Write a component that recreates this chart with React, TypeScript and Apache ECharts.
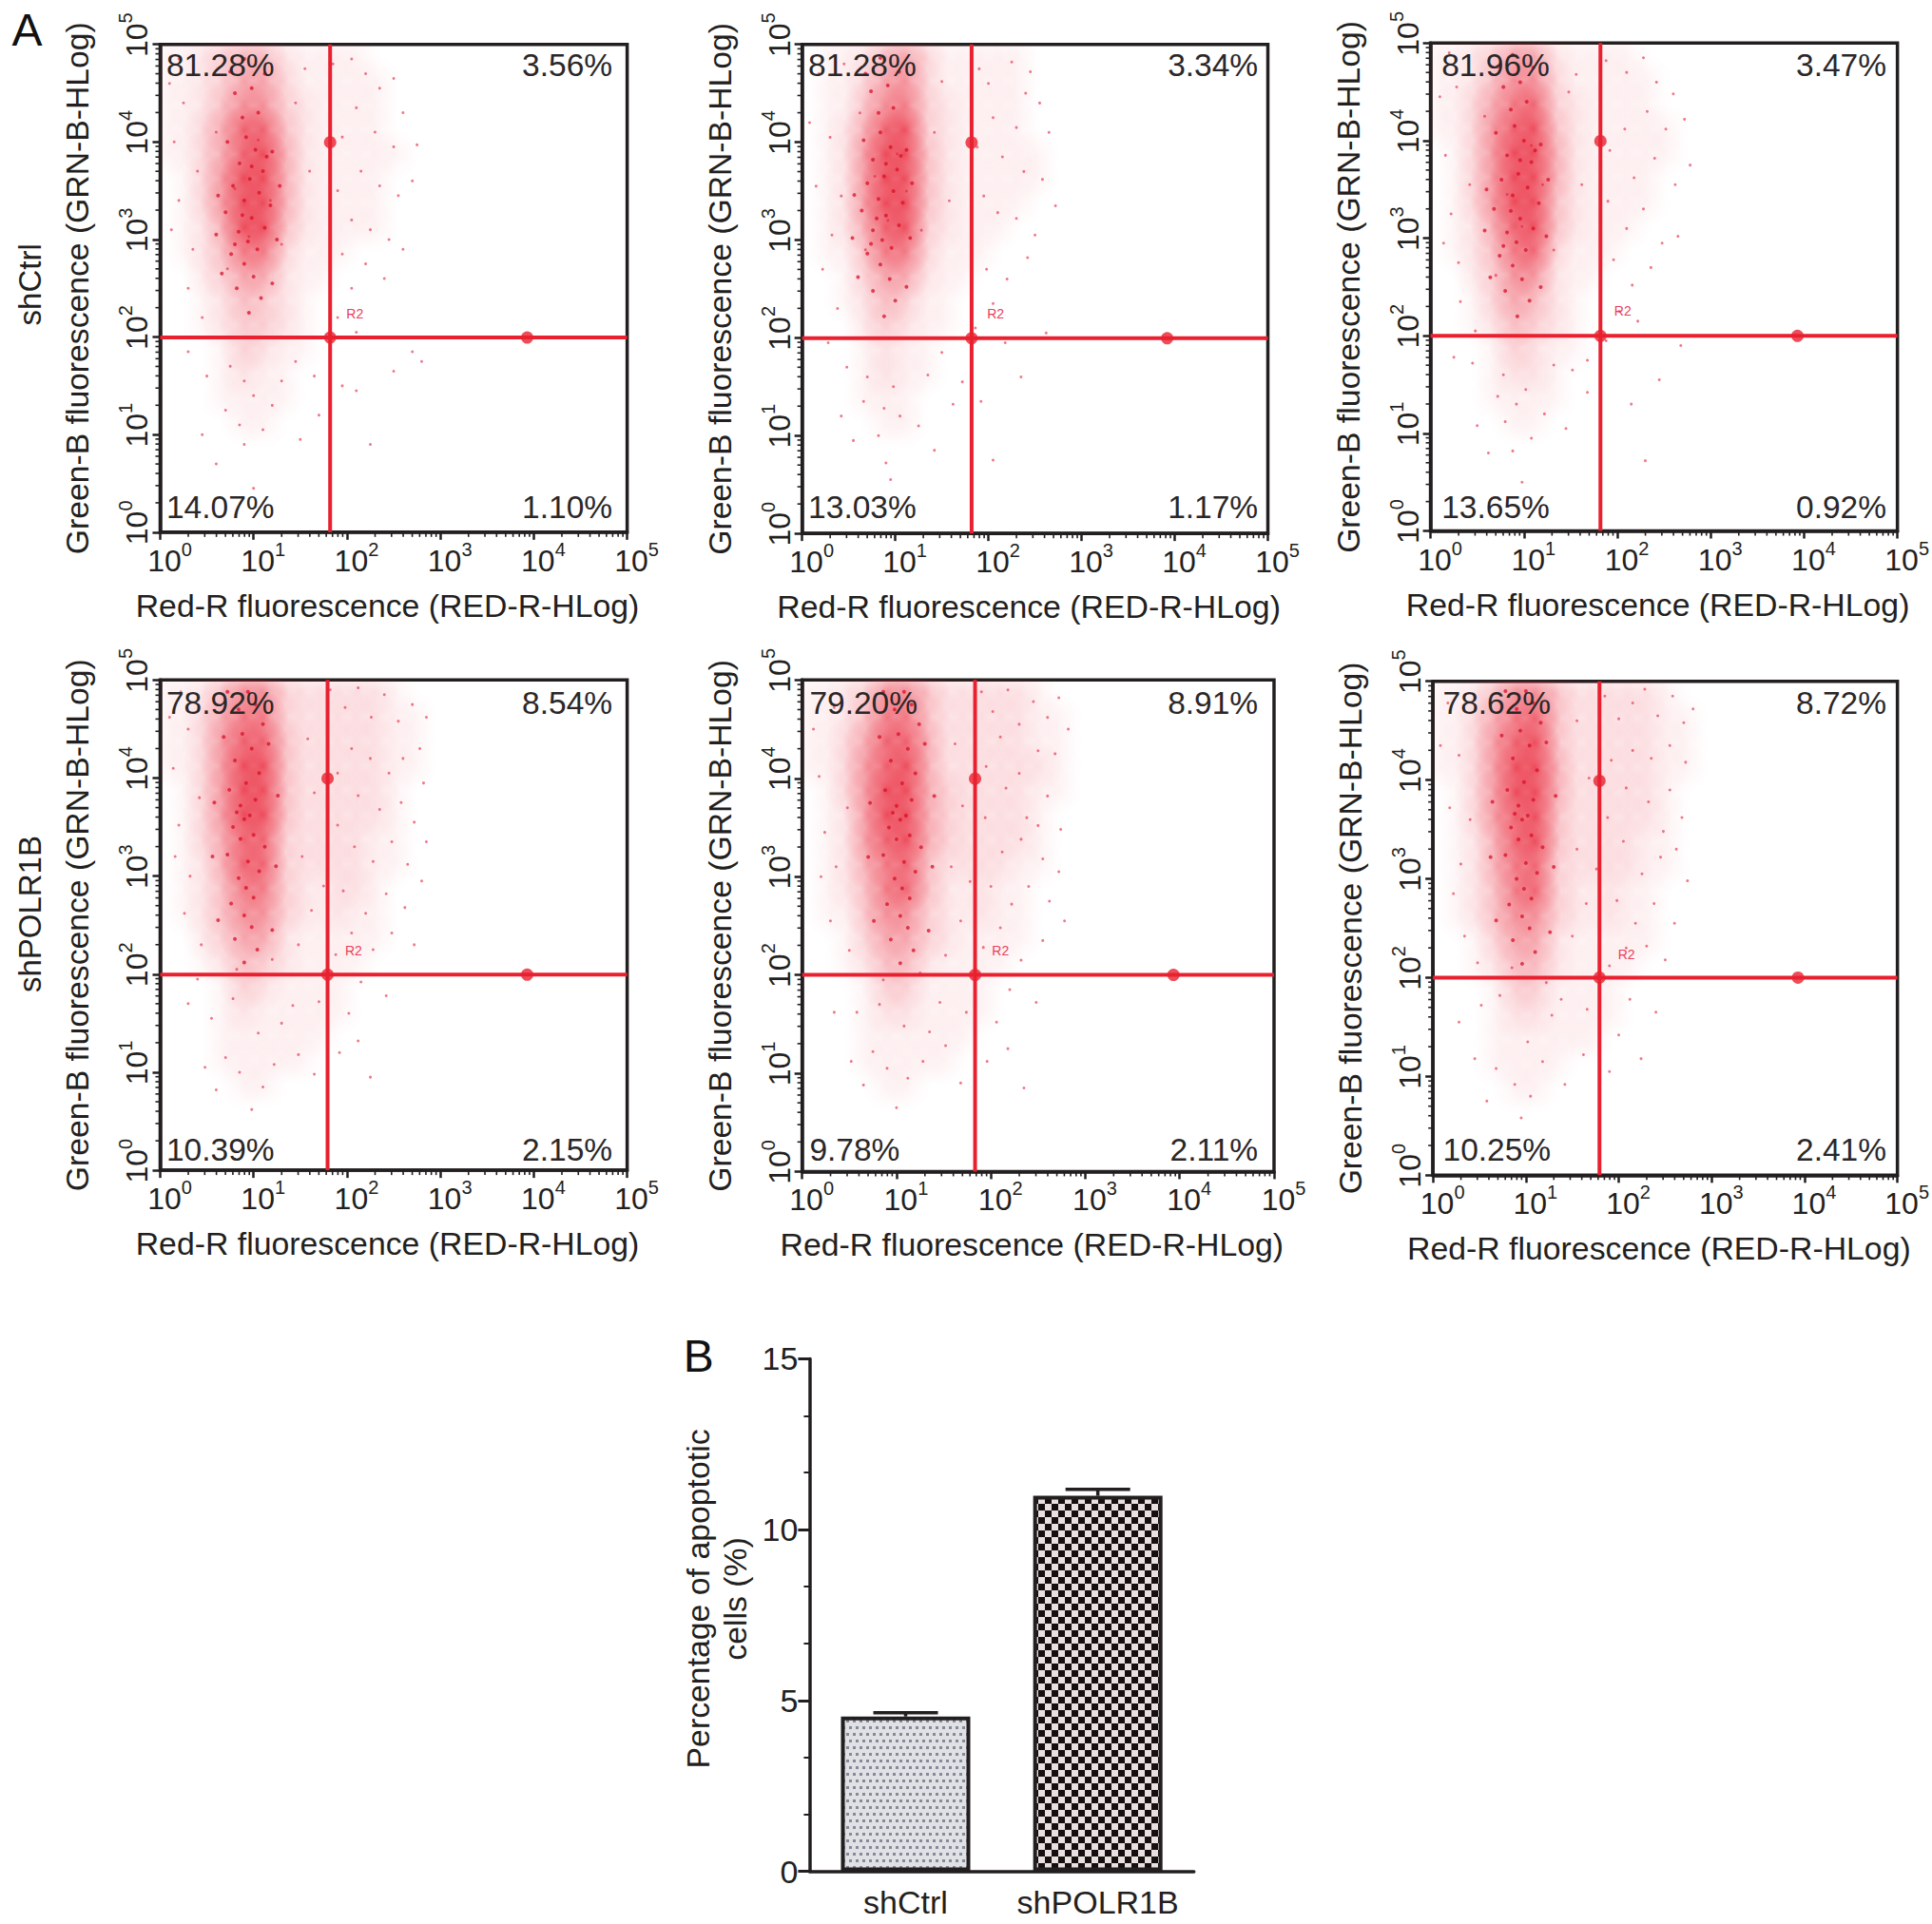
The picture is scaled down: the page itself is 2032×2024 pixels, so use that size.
import React, { useEffect, useRef } from "react";
import * as echarts from "echarts";

const FONT = "Liberation Sans";
const INK = "#231f20";
const RED = "#e8202f";

const decades = [1, 10, 100, 1000, 10000, 100000];
const minorFactors = [2, 3, 4, 5, 6, 7, 8, 9];
const xAxisTitle = "Red-R fluorescence (RED-R-HLog)";
const yAxisTitle = "Green-B fluorescence (GRN-B-HLog)";
const rowTitles = ["shCtrl", "shPOLR1B"];

// Percentages in reading order: top-left, top-right, bottom-left, bottom-right
const pct1 = ["81.28%", "3.56%", "14.07%", "1.10%"];
const pct2 = ["81.28%", "3.34%", "13.03%", "1.17%"];
const pct3 = ["81.96%", "3.47%", "13.65%", "0.92%"];
const pct4 = ["78.92%", "8.54%", "10.39%", "2.15%"];
const pct5 = ["79.20%", "8.91%", "9.78%", "2.11%"];
const pct6 = ["78.62%", "8.72%", "10.25%", "2.41%"];

// Gate position: [vertical x, horizontal y, handle x, handle y]
const gate1 = [66, 99, 8500, 9900];
const gate2 = [66, 99, 8300, 9900];
const gate3 = [66, 100, 8500, 9900];
const gate4 = [62, 99, 8500, 9900];
const gate5 = [68, 100, 8600, 9900];
const gate6 = [62, 100, 8500, 9800];

// Estimated event density. Rows: log10(y) from 5 down in 0.25 steps.
// Columns: log10(x) from 0 in 0.2 steps. 0 = empty, 9 = saturated.
const density1 = ["112344211110000","112355311111000","112466321111000","113588421111000","113589521111100","013699521111000","013699521111000","012599421111000","012477311100000","002355211000000","001243210000000","001233210000000","000132110000000","000121100000000","000111100000000","000011000000000"];
const density2 = ["011245311111000","011356311111000","011467321111000","012589321111000","012699421111100","012699421111100","012699421111000","012589321110000","011477311100000","001355211000000","001243110000000","000232110000000","000121100000000","000121100000000","000111000000000","000011000000000"];
const density3 = ["112355211110000","112466311111000","113578321111000","113689421111100","013699521111100","013699521111000","013699421111000","012589421110000","012478311100000","002366211000000","001354210000000","001243210000000","000132110000000","000122100000000","000111100000000","000011000000000"];
const density4 = ["112466322222100","113577322222110","113688422222110","113699422222110","013699422222100","013699422222100","013588322221100","012588322221100","012477321221000","012466321211000","002355211111000","001243211110000","000132111100000","000121111100000","000111111000000","000111110000000","000011000000000"];
const density5 = ["112366422222100","112477422222110","113588522222110","113689522222210","013699532222110","012699532222100","012689532222100","012578422221100","012478421211000","011466321211000","001355321111000","001244211110000","000133111100000","000122111100000","000111111000000","000111110000000","000011000000000"];
const density6 = ["112466422222100","113578422222110","113689422222110","113699522222110","013699522222100","013689422222100","012589422221100","012578322221100","012478321211000","012466321211000","001355211111000","001244211110000","000133111100000","000122111100000","000111111000000","000111100000000","000011000000000"];

// Individually legible events, as [log10 x, log10 y]
const dots1 = [[1.85,4.8],[2.05,4.85],[2.2,4.7],[2.35,4.55],[2.5,4.65],[2.6,4.3],[2.75,3.97],[2.5,3.95],[2.3,4.1],[2.1,4.35],[1.95,4.05],[2.15,3.7],[2.35,3.55],[2.55,3.45],[2.7,3.6],[1.9,3.5],[2.05,3.2],[2.25,3.1],[2.45,3.0],[2.6,2.9],[2.4,2.6],[2.2,2.75],[1.95,2.85],[2.05,2.5],[1.9,2.2],[2.1,2.05],[2.7,1.85],[2.8,1.75],[2.5,1.65],[2.1,1.45],[2.25,0.9],[1.95,1.5],[1.0,0.45],[0.9,0.9],[0.85,1.1],[1.1,1.05],[0.7,1.25],[1.2,1.3],[0.45,1.0],[1.5,0.95],[1.7,1.2],[0.6,0.7],[1.0,1.4],[1.3,1.55],[0.5,1.6],[0.3,1.85],[0.75,1.7],[1.45,1.75],[1.65,1.6],[0.9,1.55],[0.1,4.6],[0.15,4.0],[0.2,3.4],[0.25,4.4],[0.35,2.9],[0.4,3.7],[0.12,3.1],[0.3,2.5],[0.45,2.2],[0.2,4.85],[0.8,3.52],[0.95,3.03],[1.05,4.02],[1.18,3.4],[0.72,2.7],[1.3,2.95],[0.6,4.1],[1.45,4.4],[1.6,3.7],[1.55,4.75]];
const dots2 = [[1.9,4.75],[2.0,4.6],[2.25,4.82],[2.4,4.5],[2.55,4.4],[2.45,4.72],[2.65,4.1],[2.3,4.15],[2.05,4.25],[1.88,3.95],[2.15,3.85],[2.38,3.7],[2.58,3.62],[2.72,3.35],[1.95,3.45],[2.1,3.28],[2.3,3.22],[2.5,3.05],[2.42,2.82],[2.2,2.6],[1.98,2.7],[2.05,2.35],[1.86,2.1],[2.18,1.95],[2.62,2.05],[2.35,1.6],[1.92,1.35],[2.05,0.75],[0.95,0.55],[0.82,1.0],[0.9,0.72],[1.05,1.2],[0.66,1.35],[1.25,1.1],[0.42,1.2],[1.42,0.85],[1.62,1.32],[0.55,0.95],[0.98,1.5],[1.35,1.62],[0.48,1.7],[0.28,1.95],[0.7,1.6],[1.5,1.85],[1.72,1.55],[0.88,1.28],[0.08,4.2],[0.18,4.7],[0.15,3.55],[0.3,4.05],[0.32,3.05],[0.42,3.45],[0.22,2.7],[0.38,2.3],[0.45,4.8],[0.78,3.65],[0.92,3.2],[1.02,3.88],[1.12,3.5],[0.68,2.9],[1.28,3.1],[0.62,4.3],[1.42,4.1],[1.58,3.4],[1.5,4.62]];
const dots3 = [[1.88,4.82],[2.1,4.7],[2.28,4.85],[2.42,4.6],[2.6,4.48],[2.72,4.22],[2.52,4.12],[2.32,4.3],[2.08,4.12],[1.92,3.9],[2.18,3.62],[2.4,3.82],[2.62,3.55],[2.78,3.75],[1.9,3.38],[2.1,3.1],[2.28,3.3],[2.48,2.95],[2.65,3.02],[2.36,2.7],[2.16,2.52],[1.96,2.78],[2.02,2.25],[1.88,1.95],[2.22,2.15],[2.68,1.9],[2.45,1.55],[2.15,1.3],[2.3,0.72],[0.98,0.5],[0.88,0.82],[0.8,1.12],[1.08,0.95],[0.72,1.38],[1.22,1.2],[0.5,1.08],[1.45,1.05],[1.68,1.42],[0.62,0.8],[1.02,1.45],[1.32,1.7],[0.45,1.72],[0.25,1.78],[0.78,1.6],[1.52,1.65],[1.68,1.75],[0.92,1.3],[0.1,4.45],[0.16,3.85],[0.22,3.25],[0.28,4.55],[0.3,2.75],[0.42,3.55],[0.14,2.95],[0.32,2.35],[0.48,2.05],[0.2,4.9],[0.82,3.45],[0.98,3.12],[1.08,3.95],[1.2,3.55],[0.7,2.62],[1.32,2.88],[0.58,4.25],[1.48,4.5],[1.62,3.55],[1.56,4.68]];
const dots4 = [[1.82,4.9],[1.98,4.72],[2.12,4.92],[2.26,4.62],[2.4,4.85],[2.55,4.58],[2.7,4.75],[2.85,4.62],[2.78,4.3],[2.6,4.2],[2.82,3.95],[2.45,4.05],[2.25,4.2],[2.05,4.3],[1.9,4.05],[2.12,3.82],[2.35,3.68],[2.58,3.75],[2.72,3.55],[2.85,3.35],[1.9,3.52],[2.08,3.3],[2.28,3.15],[2.48,3.35],[2.65,3.12],[2.8,2.95],[2.42,2.82],[2.62,2.68],[2.2,2.62],[1.96,2.85],[2.05,2.42],[1.88,2.2],[2.28,2.25],[2.48,2.42],[2.72,2.3],[2.15,1.92],[2.42,1.78],[2.02,1.6],[2.12,1.32],[2.25,0.95],[1.92,1.2],[0.98,0.62],[1.1,0.85],[0.85,1.0],[0.7,1.15],[1.22,1.08],[0.48,1.05],[1.48,1.18],[1.65,0.98],[0.6,0.82],[1.05,1.4],[1.3,1.5],[0.55,1.55],[0.3,1.7],[0.78,1.75],[1.42,1.68],[1.7,1.72],[0.4,1.95],[0.1,4.62],[0.14,4.1],[0.2,3.52],[0.3,4.5],[0.32,3.0],[0.42,3.8],[0.16,3.2],[0.26,2.62],[0.44,2.3],[0.22,4.88],[1.58,4.4],[1.65,3.85],[1.52,3.2],[1.62,2.65],[1.48,2.3],[1.75,2.9],[0.82,2.05],[1.2,2.15]];
const dots5 = [[1.9,4.88],[2.02,4.68],[2.18,4.9],[2.3,4.55],[2.45,4.78],[2.6,4.62],[2.72,4.82],[2.82,4.5],[2.68,4.25],[2.5,4.28],[2.3,4.05],[2.1,4.42],[1.95,4.12],[2.16,3.9],[2.38,3.6],[2.6,3.82],[2.74,3.48],[2.5,3.52],[1.94,3.6],[2.12,3.25],[2.32,3.38],[2.55,3.18],[2.72,3.05],[2.4,2.9],[2.62,2.75],[2.22,2.72],[2.0,2.9],[2.1,2.48],[1.92,2.28],[2.32,2.15],[2.55,2.35],[2.78,2.55],[2.2,1.85],[2.48,1.72],[2.06,1.52],[2.18,1.25],[2.35,0.85],[1.96,1.12],[1.0,0.65],[1.12,0.95],[0.9,1.05],[0.75,1.22],[1.28,1.12],[0.52,1.12],[1.52,1.28],[1.68,0.9],[0.65,0.88],[1.08,1.48],[1.35,1.42],[0.58,1.62],[0.34,1.62],[0.82,1.7],[1.46,1.72],[1.74,1.62],[0.12,4.5],[0.18,4.02],[0.24,3.45],[0.34,4.72],[0.36,3.1],[0.48,3.7],[0.2,3.0],[0.3,2.55],[0.5,2.25],[1.62,4.35],[1.7,3.72],[1.58,3.1],[1.68,2.55],[1.52,2.2],[1.78,2.95],[0.86,1.95],[1.25,2.02]];
const dots6 = [[1.85,4.85],[2.0,4.62],[2.15,4.78],[2.28,4.92],[2.42,4.65],[2.58,4.85],[2.7,4.58],[2.8,4.72],[2.72,4.18],[2.55,4.35],[2.35,4.22],[2.15,4.3],[1.92,4.2],[2.08,3.92],[2.32,3.78],[2.55,3.9],[2.68,3.62],[2.48,3.48],[1.88,3.62],[2.05,3.38],[2.25,3.05],[2.45,3.22],[2.62,3.3],[2.74,2.98],[2.38,2.75],[2.6,2.55],[2.18,2.55],[1.98,2.78],[2.08,2.3],[1.9,2.12],[2.3,2.32],[2.5,2.18],[2.12,1.78],[2.4,1.65],[2.0,1.42],[2.24,1.18],[1.9,1.05],[0.95,0.58],[1.05,0.8],[0.88,0.92],[0.68,1.08],[1.18,1.15],[0.45,1.18],[1.42,0.92],[1.62,1.22],[0.58,0.75],[1.02,1.35],[1.28,1.62],[0.52,1.72],[0.28,1.55],[0.72,1.82],[1.38,1.78],[1.66,1.68],[0.42,2.0],[0.08,4.35],[0.16,4.78],[0.18,3.72],[0.28,4.25],[0.3,3.15],[0.4,3.6],[0.22,2.85],[0.34,2.42],[0.48,2.15],[1.55,4.6],[1.68,4.02],[1.55,3.3],[1.65,2.75],[1.5,2.42],[1.76,3.1],[0.85,2.1],[1.22,1.95]];

// Darker events inside each dense core, as [log10 x, log10 y]
const core1 = [[0.92,4.05],[1.02,3.92],[0.85,3.78],[1.1,3.7],[0.96,3.62],[0.78,3.55],[1.06,3.48],[0.9,3.4],[1.18,3.35],[0.7,3.28],[0.98,3.22],[1.12,3.12],[0.84,3.08],[0.94,2.98],[1.04,2.9],[0.76,2.85],[0.9,2.75],[1.0,2.62],[0.82,2.5],[1.08,2.4],[0.95,2.25],[0.88,4.25],[1.05,4.3],[0.72,4.0],[1.2,3.9],[0.62,3.45],[1.28,3.55],[0.6,3.05],[1.25,3.0],[0.66,2.65],[1.2,2.55],[0.98,4.55],[0.8,4.5],[1.12,4.7],[0.9,4.85],[0.75,4.72],[0.98,3.75],[0.88,3.25],[1.14,3.85],[0.8,2.95]];
const core2 = [[0.84,4.1],[0.95,3.95],[0.76,3.82],[1.02,3.72],[0.88,3.65],[0.7,3.58],[0.98,3.5],[0.82,3.42],[1.08,3.38],[0.64,3.3],[0.9,3.25],[1.04,3.15],[0.76,3.1],[0.86,3.0],[0.96,2.92],[0.7,2.86],[0.84,2.75],[0.94,2.6],[0.76,2.48],[1.0,2.38],[0.88,2.22],[0.82,4.3],[0.98,4.35],[0.66,4.02],[1.12,3.92],[0.56,3.46],[1.18,3.58],[0.54,3.02],[1.16,3.02],[0.6,2.62],[1.12,2.52],[0.92,4.58],[0.74,4.52],[1.04,4.72],[0.84,4.86],[0.68,4.7],[0.9,3.78],[0.8,3.22],[1.06,3.86],[0.74,2.96]];
const core3 = [[0.9,4.15],[1.0,4.0],[0.82,3.85],[1.08,3.78],[0.94,3.66],[0.76,3.6],[1.04,3.52],[0.88,3.44],[1.16,3.36],[0.68,3.3],[0.96,3.2],[1.1,3.1],[0.82,3.06],[0.92,2.96],[1.02,2.88],[0.74,2.82],[0.88,2.72],[0.98,2.58],[0.8,2.46],[1.06,2.36],[0.93,2.2],[0.86,4.32],[1.03,4.4],[0.7,4.08],[1.18,3.96],[0.6,3.5],[1.26,3.6],[0.58,3.08],[1.24,3.02],[0.64,2.6],[1.18,2.5],[0.96,4.6],[0.78,4.55],[1.1,4.75],[0.88,4.88],[0.72,4.76],[0.96,3.8],[0.86,3.28],[1.12,3.9],[0.78,2.92]];
const core4 = [[0.88,4.45],[0.98,4.3],[0.8,4.18],[1.06,4.05],[0.92,3.95],[0.74,3.88],[1.02,3.78],[0.86,3.72],[0.82,3.65],[0.9,3.58],[0.78,3.5],[1.0,3.42],[1.12,3.3],[0.72,3.22],[0.94,3.15],[1.06,3.05],[0.84,2.98],[0.92,2.88],[1.0,2.78],[0.76,2.72],[0.9,2.6],[0.98,2.48],[0.8,2.36],[1.04,2.25],[0.9,2.12],[0.84,4.7],[1.02,4.75],[0.68,4.42],[1.16,4.35],[0.58,3.75],[1.26,3.82],[0.56,3.2],[1.24,3.1],[0.62,2.55],[1.2,2.45],[0.94,4.88],[0.72,4.88],[1.1,4.55],[0.96,3.62],[0.86,3.38]];
const core5 = [[1.02,4.45],[1.12,4.3],[0.94,4.18],[1.2,4.05],[1.06,3.95],[0.88,3.88],[1.16,3.78],[1.0,3.72],[0.96,3.65],[1.04,3.58],[0.92,3.5],[1.14,3.42],[1.26,3.3],[0.86,3.22],[1.08,3.15],[1.2,3.05],[0.98,2.98],[1.06,2.88],[1.14,2.78],[0.9,2.72],[1.04,2.6],[1.12,2.48],[0.94,2.36],[1.18,2.25],[1.04,2.12],[0.98,4.7],[1.16,4.75],[0.82,4.42],[1.3,4.35],[0.72,3.75],[1.4,3.82],[0.7,3.2],[1.38,3.1],[0.76,2.55],[1.34,2.45],[1.08,4.88],[0.86,4.88],[1.24,4.55],[1.1,3.62],[1.0,3.38]];
const core6 = [[0.94,4.5],[1.04,4.35],[0.86,4.22],[1.12,4.1],[0.98,3.98],[0.8,3.9],[1.08,3.8],[0.92,3.74],[0.88,3.66],[0.96,3.6],[0.84,3.52],[1.06,3.44],[1.18,3.32],[0.78,3.24],[1.0,3.16],[1.12,3.06],[0.9,3.0],[0.98,2.9],[1.06,2.8],[0.82,2.74],[0.96,2.62],[1.04,2.5],[0.86,2.38],[1.1,2.26],[0.96,2.14],[0.9,4.72],[1.08,4.78],[0.74,4.45],[1.22,4.38],[0.64,3.78],[1.32,3.84],[0.62,3.22],[1.3,3.12],[0.68,2.58],[1.26,2.46],[1.0,4.9],[0.78,4.9],[1.16,4.58],[1.02,3.64],[0.92,3.4]];

const barCategories = ["shCtrl", "shPOLR1B"];
const barValues = [4.53, 10.99];
const barUpper = [4.64, 11.18];
const barTicks = ["0", "5", "10", "15"];
const barTitle = "Percentage of apoptotic\ncells (%)";

const S = 2032 / 1568;
// Panel frames measured in the shrunk reference: [left, right, top, bottom]
const frames = [
  [130, 509, 36, 432], [651, 1029, 36, 433], [1161, 1540, 35, 431],
  [130, 509, 552, 950], [651, 1034, 552, 951], [1163, 1543, 553, 954],
];
// Text anchors, shrunk reference: [left x, right x, top y, bottom y, R2 x, R2 y]
const anchors = [
  [135, 497, 53, 412, 288, 255], [656, 1021, 53, 412, 808, 255], [1170, 1531, 53, 412, 1317, 252],
  [135, 497, 571, 933, 287, 772], [657, 1021, 571, 933, 812, 772], [1171, 1531, 571, 933, 1320, 775],
];
const panels = [
  { pct: pct1, gate: gate1, density: density1, dots: dots1, core: core1 },
  { pct: pct2, gate: gate2, density: density2, dots: dots2, core: core2 },
  { pct: pct3, gate: gate3, density: density3, dots: dots3, core: core3 },
  { pct: pct4, gate: gate4, density: density4, dots: dots4, core: core4 },
  { pct: pct5, gate: gate5, density: density5, dots: dots5, core: core5 },
  { pct: pct6, gate: gate6, density: density6, dots: dots6, core: core6 },
];

const tile = (w: number, h: number, draw: (c: CanvasRenderingContext2D) => void) => {
  const cv = document.createElement("canvas");
  cv.width = w;
  cv.height = h;
  draw(cv.getContext("2d")!);
  return cv;
};

const decadeLabel = (v: number) => `{b|10}{s|${Math.round(Math.log10(v))}}`;
const supRich = {
  b: { fontSize: 32, fontFamily: FONT, color: INK, lineHeight: 38, verticalAlign: "bottom" },
  s: { fontSize: 20, fontFamily: FONT, color: INK, lineHeight: 38, verticalAlign: "top" },
};

const minorValues = decades.slice(0, 5).flatMap((d) => minorFactors.map((f) => f * d));

function App() {
  const ref = useRef<HTMLDivElement>(null);
  useEffect(() => {
    document.body.style.margin = "0";
    const chart = echarts.init(ref.current!, undefined, { renderer: "svg", width: 2032, height: 2024 });
    const grids: any[] = [];
    const xAxes: any[] = [];
    const yAxes: any[] = [];
    const series: any[] = [];
    const graphics: any[] = [];
    const text = (o: any) => graphics.push({ type: "text", z: 50, silent: true, ...o });

    panels.forEach((p, i) => {
      const [l, r, t, b] = frames[i].map((v) => v * S);
      grids.push({ left: l, top: t, width: r - l, height: b - t, show: true, borderColor: INK, borderWidth: 3.5, backgroundColor: "transparent" });
      xAxes.push({
        gridIndex: i, type: "log", logBase: 10, min: 1, max: 100000, splitLine: { show: false },
        axisLine: { lineStyle: { color: INK, width: 3.5 } },
        axisTick: { length: 8, lineStyle: { color: INK, width: 2.5 } },
        axisLabel: { formatter: decadeLabel, rich: supRich, margin: 8, padding: [0, 0, 0, 20], showMinLabel: true, showMaxLabel: true, hideOverlap: false },
        name: xAxisTitle, nameLocation: "middle", nameGap: 60,
        nameTextStyle: { fontFamily: FONT, fontSize: 33.8, color: INK, padding: [0, 13, 0, 0] },
      });
      yAxes.push({
        gridIndex: i, type: "log", logBase: 10, min: 1, max: 100000, splitLine: { show: false },
        axisLine: { lineStyle: { color: INK, width: 3.5 } },
        axisTick: { length: 8, lineStyle: { color: INK, width: 2.5 } },
        axisLabel: { rotate: 90, formatter: decadeLabel, rich: supRich, margin: 8, padding: [0, 0, 0, 20], showMinLabel: true, showMaxLabel: true, hideOverlap: false },
        name: yAxisTitle, nameLocation: "middle", nameGap: 70,
        nameTextStyle: { fontFamily: FONT, fontSize: 33.7, color: INK },
      });
      // density fog
      const fog: number[][] = [];
      p.density.forEach((row, ri) => {
        row.split("").forEach((ch, ci) => {
          const d = Number(ch);
          if (d > 0) fog.push([10 ** (0.1 + ci * 0.2), 10 ** (4.875 - ri * 0.25), d]);
        });
      });
      series.push({
        type: "custom", xAxisIndex: i, yAxisIndex: i, data: fog, silent: true, z: 2,
        encode: { x: 0, y: 1 },
        renderItem: (params: any, api: any) => {
          const c = api.coord([api.value(0), api.value(1)]);
          const d = api.value(2);
          const a = d * 0.04 + d * d * 0.004;
          const R = 27;
          const cs = params.coordSys;
          const x0 = Math.max(cs.x, c[0] - R);
          const y0 = Math.max(cs.y, c[1] - R);
          const x1 = Math.min(cs.x + cs.width, c[0] + R);
          const y1 = Math.min(cs.y + cs.height, c[1] + R);
          return {
            type: "rect",
            shape: { x: x0, y: y0, width: x1 - x0, height: y1 - y0 },
            style: {
              fill: new echarts.graphic.RadialGradient(c[0], c[1], R, [
                { offset: 0, color: `rgba(232,22,42,${a})` },
                { offset: 1, color: "rgba(232,22,42,0)" },
              ], true),
            },
          };
        },
      });
      series.push({
        type: "scatter", xAxisIndex: i, yAxisIndex: i, symbolSize: 3, silent: true, z: 3,
        itemStyle: { color: "#e4203a", opacity: 0.6 },
        data: p.dots.map(([x, y]) => [10 ** x, 10 ** y]),
      });
      series.push({
        type: "scatter", xAxisIndex: i, yAxisIndex: i, symbolSize: 4, silent: true, z: 3,
        itemStyle: { color: "#d80f28", opacity: 0.75 },
        data: p.core.map(([x, y]) => [10 ** x, 10 ** y]),
      });
      // minor ticks
      [0, 1].forEach((axis) => {
        series.push({
          type: "custom", xAxisIndex: i, yAxisIndex: i, silent: true, z: 1,
          data: minorValues.map((v) => [v]),
          encode: axis === 0 ? { x: 0 } : { y: 0 },
          renderItem: (_: any, api: any) => {
            const v = api.value(0);
            const c = api.coord(axis === 0 ? [v, 1] : [1, v]);
            const shape = axis === 0
              ? { x1: c[0], y1: c[1], x2: c[0], y2: c[1] + 5 }
              : { x1: c[0], y1: c[1], x2: c[0] - 5, y2: c[1] };
            return { type: "line", shape, style: { stroke: INK, lineWidth: 1.6 } };
          },
        });
      });
      // gate
      const [gx, gy, hx, hy] = p.gate;
      const lineStyle = { color: RED, width: 4 };
      series.push({ type: "line", xAxisIndex: i, yAxisIndex: i, z: 4, silent: true, symbol: "none", lineStyle, data: [[gx, 1], [gx, 100000]] });
      series.push({ type: "line", xAxisIndex: i, yAxisIndex: i, z: 4, silent: true, symbol: "none", lineStyle, data: [[1, gy], [100000, gy]] });
      series.push({
        type: "scatter", xAxisIndex: i, yAxisIndex: i, z: 5, silent: true, symbolSize: 13,
        itemStyle: { color: RED },
        data: [[gx, hy], [gx, gy], [hx, gy]],
      });
      // texts
      const [tl, tr, ty, tb, rx, ry] = anchors[i].map((v) => v * S);
      const style = { fontFamily: FONT, fontSize: 33.5, fill: "#2b2728", verticalAlign: "middle" };
      text({ x: tl, y: ty, style: { ...style, text: p.pct[0], align: "left" } });
      text({ x: tr, y: ty, style: { ...style, text: p.pct[1], align: "right" } });
      text({ x: tl, y: tb, style: { ...style, text: p.pct[2], align: "left" } });
      text({ x: tr, y: tb, style: { ...style, text: p.pct[3], align: "right" } });
      text({ x: rx, y: ry, style: { fontFamily: FONT, fontSize: 14, fill: "#e8405a", text: "R2", align: "center", verticalAlign: "middle" } });
    });

    // row titles and panel letters
    const rot = Math.PI / 2;
    text({ x: 24 * S, y: 231 * S, rotation: rot, style: { fontFamily: FONT, fontSize: 33, fill: INK, text: rowTitles[0], align: "center", verticalAlign: "middle" } });
    text({ x: 24 * S, y: 742 * S, rotation: rot, style: { fontFamily: FONT, fontSize: 33, fill: INK, text: rowTitles[1], align: "center", verticalAlign: "middle" } });
    text({ x: 22 * S, y: 24 * S, style: { fontFamily: FONT, fontSize: 48, fill: "#111", text: "A", align: "center", verticalAlign: "middle" } });
    text({ x: 567 * S, y: 1101 * S, style: { fontFamily: FONT, fontSize: 48, fill: "#111", text: "B", align: "center", verticalAlign: "middle" } });

    // Panel B
    const dotTile = tile(7, 14, (c) => {
      c.fillStyle = "#e0e1e5";
      c.fillRect(0, 0, 7, 14);
      c.fillStyle = "#868a98";
      c.fillRect(1, 3, 3, 3);
      c.fillRect(4, 10, 3, 3);
    });
    const checkTile = tile(14, 14, (c) => {
      c.fillStyle = "#e9dfe0";
      c.fillRect(0, 0, 14, 14);
      c.fillStyle = "#150f10";
      c.fillRect(0, 0, 7, 7);
      c.fillRect(7, 7, 7, 7);
    });
    const bi = panels.length;
    grids.push({ left: 657 * S, top: 1103 * S, width: 312 * S, height: 416 * S });
    xAxes.push({
      gridIndex: bi, type: "category", data: barCategories,
      axisLine: { lineStyle: { color: INK, width: 3.5 } },
      axisTick: { alignWithLabel: true, length: 12, lineStyle: { color: INK, width: 3 } },
      axisLabel: { fontFamily: FONT, fontSize: 34, color: INK, margin: 15, interval: 0 },
    });
    yAxes.push({
      gridIndex: bi, type: "value", min: 0, max: 15, interval: 5, splitLine: { show: false },
      axisLine: { show: true, lineStyle: { color: INK, width: 3.5 } },
      axisTick: { show: true, length: 12, lineStyle: { color: INK, width: 3 } },
      minorTick: { show: true, splitNumber: 3, length: 6, lineStyle: { color: INK, width: 2 } },
      axisLabel: { fontFamily: FONT, fontSize: 34, color: INK, margin: 12, formatter: (v: number) => (barTicks.includes(String(v)) ? String(v) : "") },
      name: barTitle, nameLocation: "middle", nameGap: 59,
      nameTextStyle: { fontFamily: FONT, fontSize: 33.8, color: INK, lineHeight: 39, padding: [0, 0, 0, 34] },
    });
    series.push({
      type: "custom", xAxisIndex: bi, yAxisIndex: bi, z: 2, silent: true,
      data: barCategories.map((_, k) => [k, barValues[k], barUpper[k]]),
      encode: { x: 0, y: 2 },
      renderItem: (_: any, api: any) => {
        const lo = api.coord([api.value(0), api.value(1)]);
        const hi = api.coord([api.value(0), api.value(2)]);
        const sty = { stroke: INK, lineWidth: 3.5 };
        return {
          type: "group",
          children: [
            { type: "line", shape: { x1: lo[0], y1: lo[1], x2: hi[0], y2: hi[1] }, style: sty },
            { type: "line", shape: { x1: hi[0] - 34, y1: hi[1], x2: hi[0] + 34, y2: hi[1] }, style: sty },
          ],
        };
      },
    });
    series.push({
      type: "bar", xAxisIndex: bi, yAxisIndex: bi, z: 3, silent: true, barWidth: 136,
      data: [
        { value: barValues[0], itemStyle: { color: { image: dotTile, repeat: "repeat" }, borderColor: INK, borderWidth: 4 } },
        { value: barValues[1], itemStyle: { color: { image: checkTile, repeat: "repeat" }, borderColor: INK, borderWidth: 4 } },
      ],
    });

    chart.setOption({
      animation: false,
      backgroundColor: "#ffffff",
      grid: grids,
      xAxis: xAxes,
      yAxis: yAxes,
      series,
      graphic: graphics,
    });
    return () => chart.dispose();
  }, []);
  return <div ref={ref} style={{ position: "absolute", left: 0, top: 0, width: 2032, height: 2024 }} />;
}

export default App;
